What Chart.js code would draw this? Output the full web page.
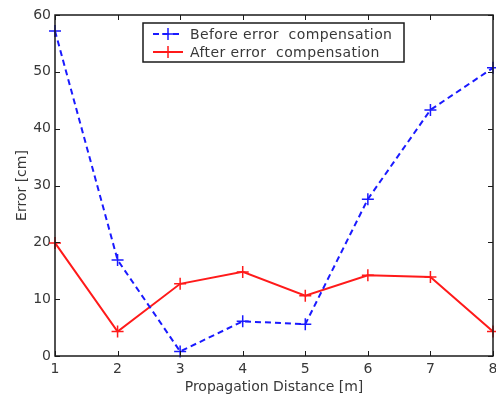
<!DOCTYPE html>
<html>
<head>
<meta charset="utf-8">
<script src="https://cdn.jsdelivr.net/npm/chart.js@4/dist/chart.umd.min.js"></script>
<style>
  html, body { margin: 0; padding: 0; background: #fff; }
  #wrap { width: 496px; height: 398px; }
</style>
</head>
<body>
<div id="wrap"><canvas id="myChart" width="496" height="398"></canvas></div>
<script>
// data
const distances = [1, 2, 3, 4, 5, 6, 7, 8];
const beforeComp = [57.2, 16.9, 0.8, 6.1, 5.6, 27.6, 43.3, 50.7];
const afterComp = [19.9, 4.3, 12.7, 14.8, 10.6, 14.2, 13.9, 4.3];
const yTicks = [0, 10, 20, 30, 40, 50, 60];
const seriesLabels = ['Before error  compensation', 'After error  compensation'];

const FONT = 'DejaVu Sans, sans-serif';
const TEXT = '#383838';

// MATLAB-ish frame: box around plot + inward ticks
const framePlugin = {
    id: 'frame',
    afterDraw(chart) {
        const ctx = chart.ctx;
        const a = chart.chartArea;
        const xs = chart.scales.x, ys = chart.scales.y;
        ctx.save();
        ctx.strokeStyle = '#1a1a1a';
        ctx.lineWidth = 1.5;
        ctx.strokeRect(a.left, a.top, a.right - a.left, a.bottom - a.top);
        ctx.lineWidth = 1;
        const len = 5;
        ctx.beginPath();
        distances.forEach(d => {
            const px = Math.round(xs.getPixelForValue(d)) + 0.5;
            ctx.moveTo(px, a.bottom); ctx.lineTo(px, a.bottom - len);
            ctx.moveTo(px, a.top); ctx.lineTo(px, a.top + len);
        });
        yTicks.forEach(v => {
            const py = Math.round(ys.getPixelForValue(v)) + 0.5;
            ctx.moveTo(a.left, py); ctx.lineTo(a.left + len, py);
            ctx.moveTo(a.right, py); ctx.lineTo(a.right - len, py);
        });
        ctx.stroke();
        ctx.restore();
    }
};

// legend box drawn inside the plot like the original
const legendPlugin = {
    id: 'boxLegend',
    afterDraw(chart) {
        const ctx = chart.ctx;
        const box = { x: 143, y: 23, w: 261, h: 39 };
        ctx.save();
        ctx.fillStyle = '#fff';
        ctx.fillRect(box.x, box.y, box.w, box.h);
        ctx.strokeStyle = '#1a1a1a';
        ctx.lineWidth = 1.5;
        ctx.strokeRect(box.x, box.y, box.w, box.h);
        chart.data.datasets.forEach((ds, i) => {
            const y = box.y + 11 + i * 18;
            ctx.strokeStyle = ds.borderColor;
            ctx.lineWidth = 2;
            ctx.setLineDash(ds.borderDash || []);
            ctx.beginPath();
            ctx.moveTo(box.x + 10, y); ctx.lineTo(box.x + 40, y);
            ctx.stroke();
            ctx.setLineDash([]);
            ctx.lineWidth = 1.5;
            ctx.beginPath();
            ctx.moveTo(box.x + 25, y - 6); ctx.lineTo(box.x + 25, y + 6);
            ctx.moveTo(box.x + 19, y); ctx.lineTo(box.x + 31, y);
            ctx.stroke();
            ctx.fillStyle = TEXT;
            ctx.font = '14px ' + FONT;
            ctx.letterSpacing = '0.4px';
            ctx.textBaseline = 'middle';
            ctx.fillText(ds.label, box.x + 47, y + 1);
        });
        ctx.restore();
    }
};

const ctx = document.getElementById('myChart').getContext('2d');
new Chart(ctx, {
    type: 'line',
    data: {
        labels: distances,
        datasets: [{
            label: seriesLabels[0],
            data: distances.map((d, i) => ({ x: d, y: beforeComp[i] })),
            borderColor: '#1a1aff',
            borderWidth: 2,
            borderDash: [6, 4],
            pointStyle: 'cross',
            pointRadius: 6,
            pointBorderWidth: 1.5,
            pointBorderColor: '#1a1aff',
            fill: false,
            tension: 0
        }, {
            label: seriesLabels[1],
            data: distances.map((d, i) => ({ x: d, y: afterComp[i] })),
            borderColor: '#ff1a1a',
            borderWidth: 2,
            pointStyle: 'cross',
            pointRadius: 6,
            pointBorderWidth: 1.5,
            pointBorderColor: '#ff1a1a',
            fill: false,
            tension: 0
        }]
    },
    options: {
        responsive: false,
        animation: false,
        clip: false,
        layout: { autoPadding: false, padding: { top: 15, right: 3, left: 0, bottom: 0 } },
        plugins: {
            legend: { display: false },
            tooltip: { enabled: false }
        },
        scales: {
            x: {
                type: 'linear',
                min: 1,
                max: 8,
                grid: { display: false, drawTicks: false },
                border: { display: false },
                afterBuildTicks: s => { s.ticks = distances.map(v => ({ value: v })); },
                afterFit: s => { s.height = 42; s.paddingLeft = 0; s.paddingRight = 0; },
                ticks: {
                    color: TEXT,
                    font: { family: FONT, size: 14 },
                    padding: 5,
                    maxRotation: 0
                },
                title: {
                    display: true,
                    text: 'Propagation Distance [m]',
                    color: TEXT,
                    font: { family: FONT, size: 14 },
                    padding: { top: 0, bottom: 2 }
                }
            },
            y: {
                min: 0,
                max: 60,
                grid: { display: false, drawTicks: false },
                border: { display: false },
                afterBuildTicks: s => { s.ticks = yTicks.map(v => ({ value: v })); },
                afterFit: s => { s.width = 55; s.paddingTop = 0; s.paddingBottom = 0; },
                ticks: {
                    color: TEXT,
                    font: { family: FONT, size: 14 },
                    padding: 4
                },
                title: {
                    display: true,
                    text: 'Error [cm]',
                    color: TEXT,
                    font: { family: FONT, size: 14 },
                    padding: { top: 14, bottom: 0 }
                }
            }
        }
    },
    plugins: [framePlugin, legendPlugin]
});
</script>
</body>
</html>
